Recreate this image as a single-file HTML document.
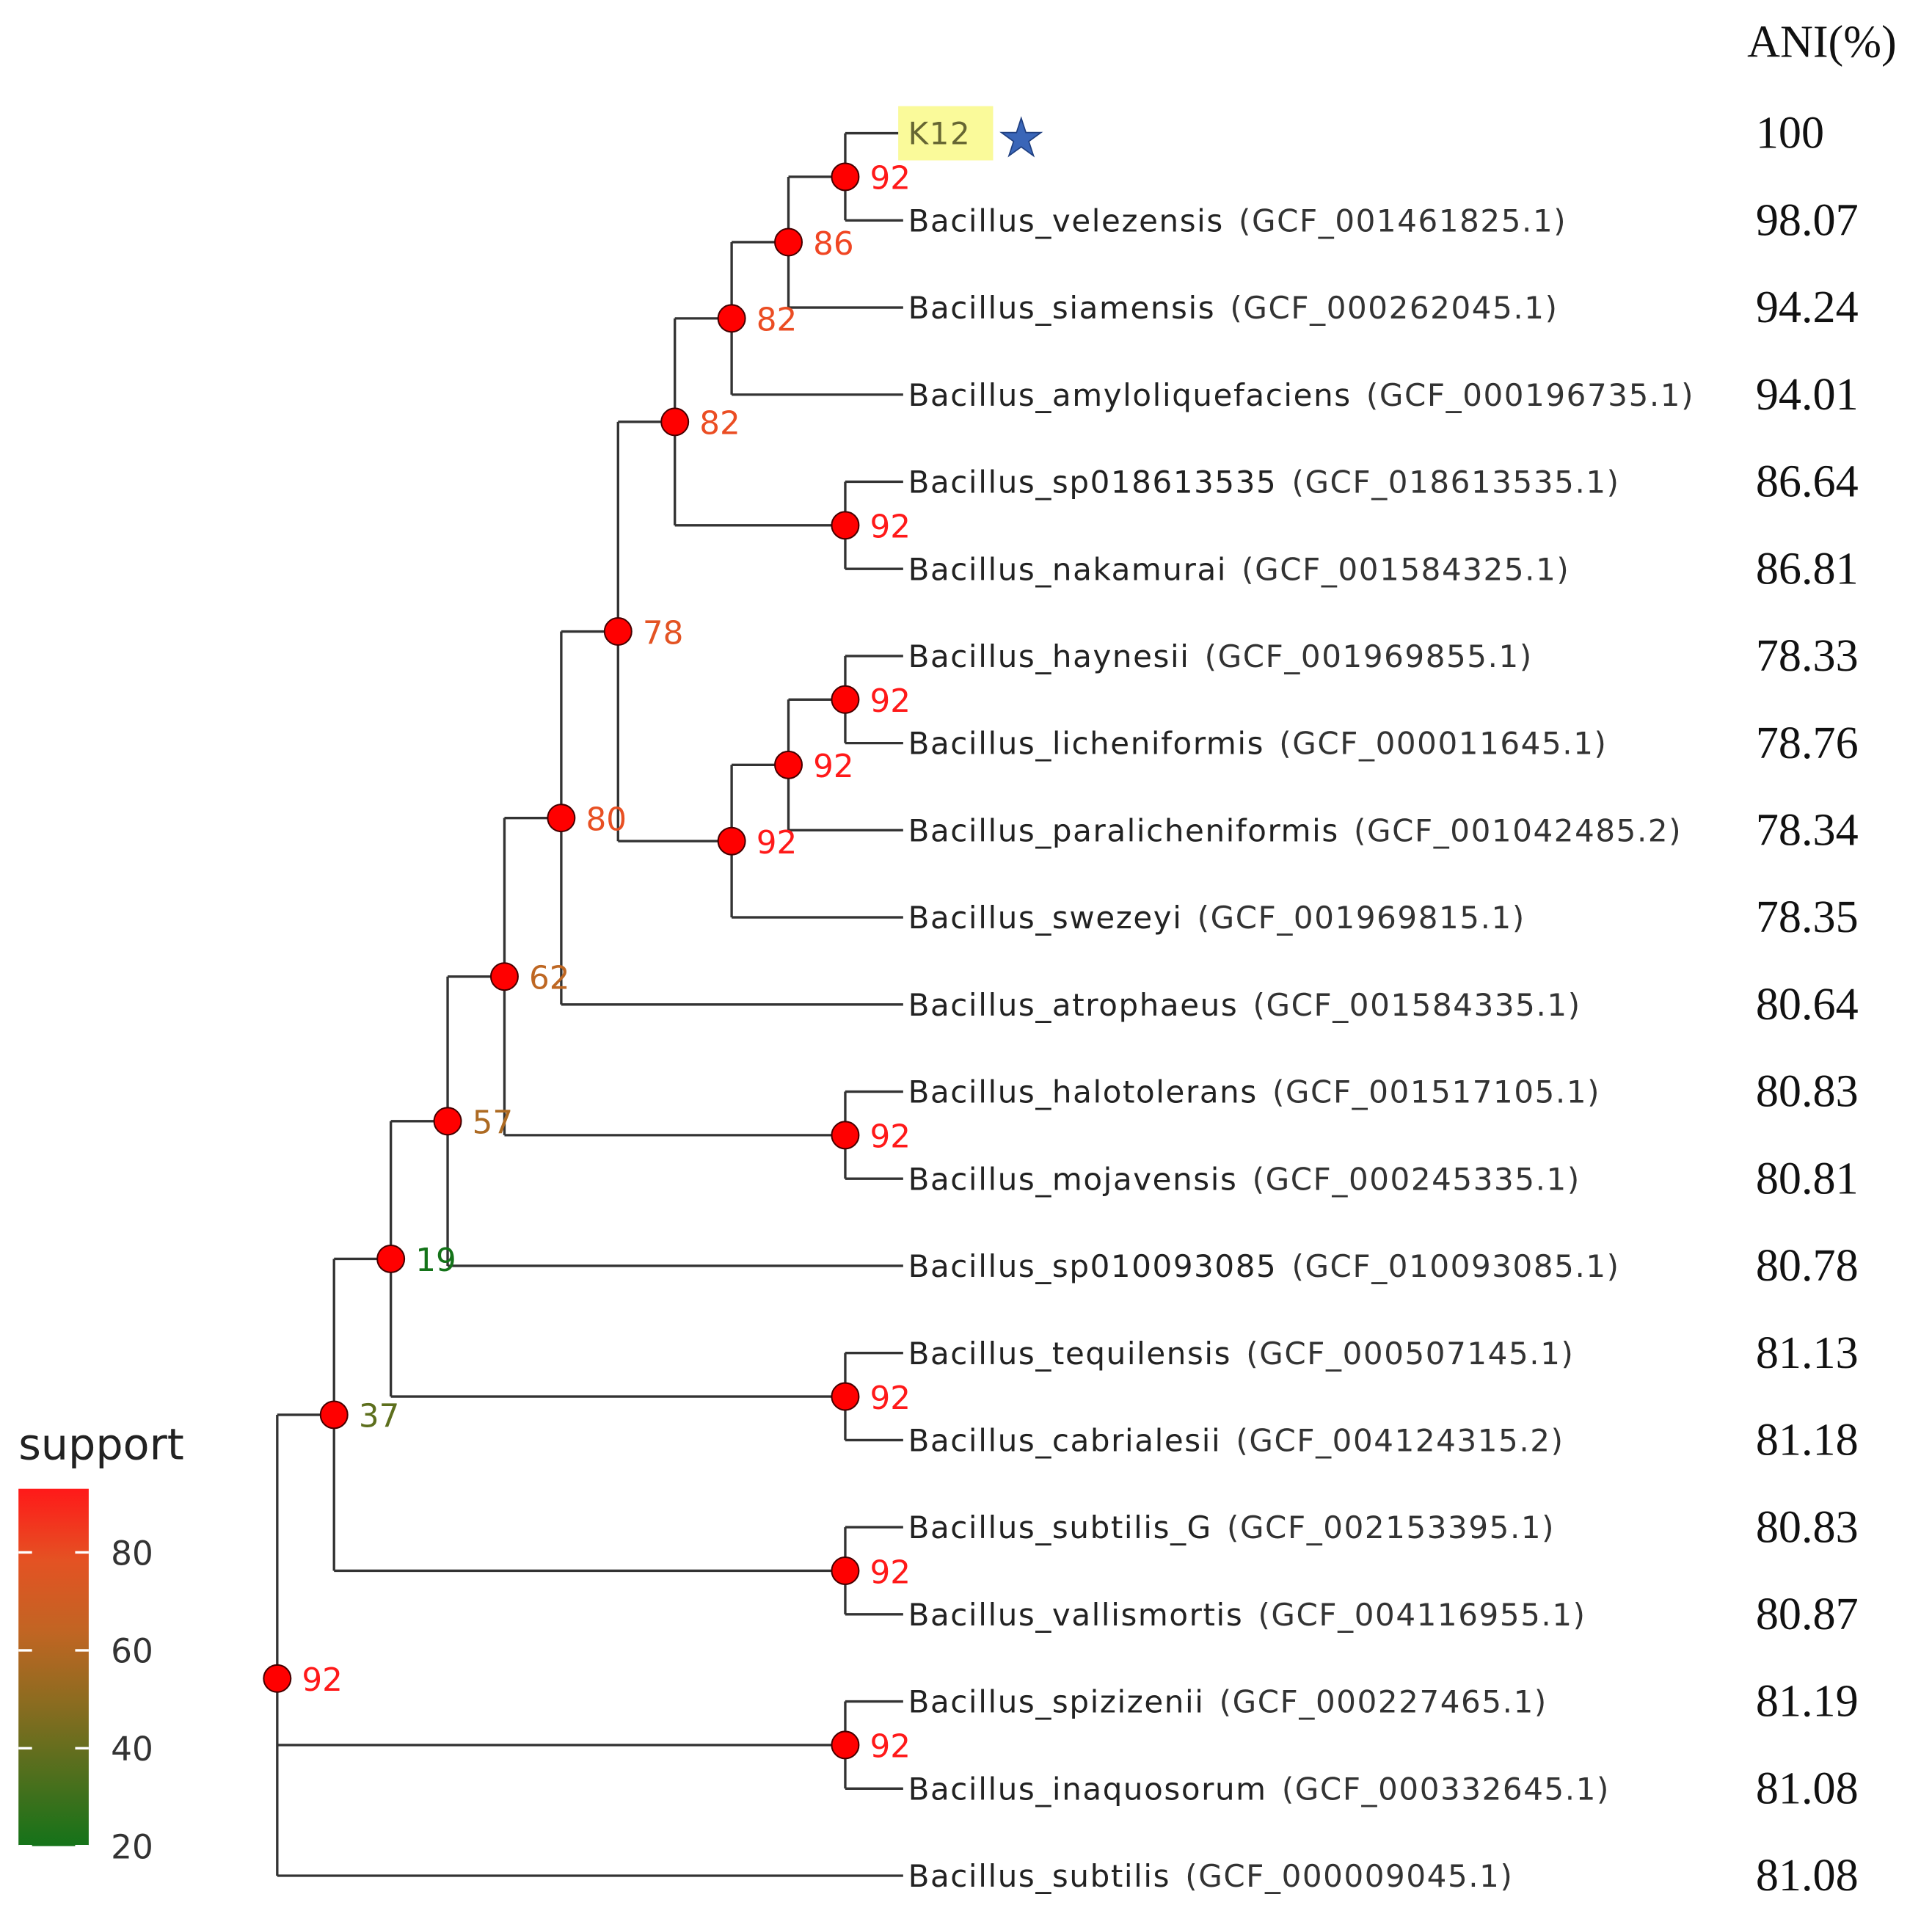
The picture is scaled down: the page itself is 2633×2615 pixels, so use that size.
<!DOCTYPE html>
<html><head><meta charset="utf-8"><style>
html,body{margin:0;padding:0;background:#fff}
svg{display:block}
text{font-family:"DejaVu Sans","Liberation Sans",sans-serif}
.ani{font-family:"Liberation Serif",serif;font-size:37px;fill:#111}
</style></head><body>
<svg id="chart" width="2633" height="2615" viewBox="0 0 1568 1557" xmlns="http://www.w3.org/2000/svg">
<g id="tree"></g>
<g id="legend"></g>
</svg>
<script>
const leafNames=["K12","Bacillus_velezensis","Bacillus_siamensis","Bacillus_amyloliquefaciens","Bacillus_sp018613535","Bacillus_nakamurai","Bacillus_haynesii","Bacillus_licheniformis","Bacillus_paralicheniformis","Bacillus_swezeyi","Bacillus_atrophaeus","Bacillus_halotolerans","Bacillus_mojavensis","Bacillus_sp010093085","Bacillus_tequilensis","Bacillus_cabrialesii","Bacillus_subtilis_G","Bacillus_vallismortis","Bacillus_spizizenii","Bacillus_inaquosorum","Bacillus_subtilis"];
const leafAcc=["","GCF_001461825.1","GCF_000262045.1","GCF_000196735.1","GCF_018613535.1","GCF_001584325.1","GCF_001969855.1","GCF_000011645.1","GCF_001042485.2","GCF_001969815.1","GCF_001584335.1","GCF_001517105.1","GCF_000245335.1","GCF_010093085.1","GCF_000507145.1","GCF_004124315.2","GCF_002153395.1","GCF_004116955.1","GCF_000227465.1","GCF_000332645.1","GCF_000009045.1"];
const aniValues=["100","98.07","94.24","94.01","86.64","86.81","78.33","78.76","78.34","78.35","80.64","80.83","80.81","80.78","81.13","81.18","80.83","80.87","81.19","81.08","81.08"];
const nodeIds=["n1","n2","n3","n4","n5","n6","n7","n8","n9","n10","n11","n12","n13","n14","n15","n16","n17","n18","root"];
const nodeChildren=[["L0","L1"],["n1","L2"],["n2","L3"],["L4","L5"],["n3","n4"],["L6","L7"],["n6","L8"],["n7","L9"],["n5","n8"],["n9","L10"],["L11","L12"],["n10","n11"],["n12","L13"],["L14","L15"],["n13","n14"],["L16","L17"],["n15","n16"],["L18","L19"],["n17","n18","L20"]];
const nodeLevel=[10,9,8,10,7,10,9,8,6,5,10,4,3,10,2,10,1,10,0];
const nodeSupport=[92,86,82,92,82,92,92,92,78,80,92,62,57,92,19,92,37,92,92];
const legendTicks=[20,40,60,80];

const NS="http://www.w3.org/2000/svg";
const tree=document.getElementById('tree'),legend=document.getElementById('legend');
function mk(tag,attrs,parent){const e=document.createElementNS(NS,tag);for(const k in attrs)e.setAttribute(k,attrs[k]);parent.appendChild(e);return e;}
const leafY=i=>108+i*70.7;
const levelX=l=>225+l*46.1;
const tipX=733;
const yScale=v=>1498-(v-20)/(92-20)*(1498-1212);
const cStops=[[19,[20,115,25]],[40,[105,110,30]],[60,[185,105,35]],[80,[232,80,35]],[86,[240,70,35]],[92,[255,25,25]]];
function supColor(s){s=Math.max(19,Math.min(92,s));
  for(let i=1;i<cStops.length;i++){if(s<=cStops[i][0]){const a=cStops[i-1],b=cStops[i];const t=(s-a[0])/(b[0]-a[0]);
    const c=a[1].map((v,j)=>Math.round(v+(b[1][j]-v)*t));return `rgb(${c})`;}}
  return 'rgb(255,25,25)';}
const pos={};
for(let i=0;i<leafNames.length;i++)pos["L"+i]={x:tipX,y:leafY(i)};
nodeIds.forEach((id,k)=>{const ch=nodeChildren[k].map(c=>pos[c]);
  pos[id]={x:levelX(nodeLevel[k]),y:ch.reduce((a,c)=>a+c.y,0)/ch.length};});
nodeIds.forEach((id,k)=>{const p=pos[id];const ch=nodeChildren[k].map(c=>pos[c]);
  const ys=ch.map(c=>c.y);
  const v=mk('line',{x1:p.x,x2:p.x,y1:Math.min(...ys),y2:Math.max(...ys),stroke:'#333','stroke-width':2},tree);
  
  
  ch.forEach((c,j)=>{const h=mk('line',{x1:p.x,x2:c.x,y1:c.y,y2:c.y,stroke:'#333','stroke-width':2},tree);
    
    });});
const hl=mk('rect',{x:729,y:86,width:77,height:44,fill:'#fafa9a'},tree);


leafNames.forEach((n,i)=>{const y=leafY(i);
  const t=mk('text',{x:737,y:y+9,'font-size':25,'letter-spacing':0.95,fill:n==="K12"?'#666633':'#222'},tree);
  
  
  t.textContent=n;
  if(leafAcc[i]){const s=document.createElementNS(NS,'tspan');s.setAttribute('fill','#333');s.setAttribute('dx','12');s.textContent='('+leafAcc[i]+')';t.appendChild(s);}
  const a=mk('text',{x:1425,y:y+12,class:'ani'},tree);
  
  
  a.textContent=aniValues[i];});
const star=mk('text',{x:810,y:126,'font-size':42,fill:'#3a66b8',stroke:'#1f3f80','stroke-width':1},tree);


star.textContent='★';
const hd=mk('text',{x:1418,y:46,class:'ani'},tree);


hd.textContent='ANI(%)';
nodeIds.forEach((id,k)=>{const p=pos[id];
  const c=mk('circle',{cx:p.x,cy:p.y,r:11,fill:'#f00',stroke:'#400','stroke-width':1.2},tree);
  
  
  const t=mk('text',{x:p.x+20,y:p.y+10,'font-size':26,fill:supColor(nodeSupport[k])},tree);
  
  
  t.textContent=nodeSupport[k];});
const lt=mk('text',{x:15,y:1184,'font-size':35,fill:'#222'},legend);


lt.textContent='support';
const defs=mk('defs',{},legend);
const gr=mk('linearGradient',{id:'sg',x1:0,y1:1,x2:0,y2:0},defs);
[0,0.2,0.4,0.6,0.8,1].forEach(o=>mk('stop',{offset:o,'stop-color':supColor(19+o*74)},gr));
const bar=mk('rect',{x:15,y:1208,width:57,height:290,fill:'url(#sg)'},legend);


legendTicks.forEach(v=>{const y=yScale(v);
  mk('line',{x1:15,x2:26,y1:y,y2:y,stroke:'#fff','stroke-width':2},legend);
  mk('line',{x1:61,x2:72,y1:y,y2:y,stroke:'#fff','stroke-width':2},legend);
  const t=mk('text',{x:90,y:y+10,'font-size':27,fill:'#333'},legend);
  
  
  t.textContent=v;});
</script>
</body></html>
